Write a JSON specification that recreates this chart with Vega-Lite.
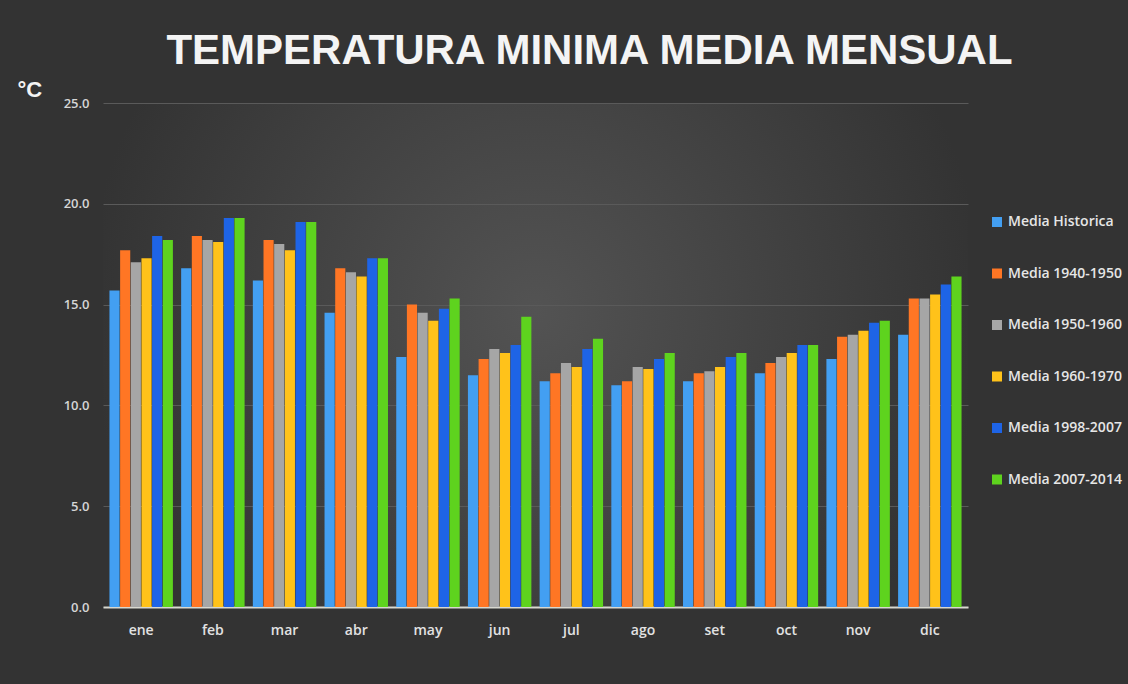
{
  "$schema": "https://vega.github.io/schema/vega-lite/v6.json",
  "autosize": {"type": "none"},
  "width": 865,
  "height": 504,
  "padding": {"left": 103, "top": 103, "right": 160, "bottom": 77},
  "background": "#333333",
  "title": {
    "text": "TEMPERATURA MINIMA MEDIA MENSUAL",
    "font": "Liberation Sans",
    "fontSize": 42,
    "fontWeight": "bold",
    "color": "#f4f4f4",
    "anchor": "middle",
    "frame": "group",
    "dx": 54,
    "offset": 5
  },
  "data": {
    "values": [
      {"mes": "ene", "serie": "Media Historica", "temp": 15.7},
      {"mes": "ene", "serie": "Media 1940-1950", "temp": 17.7},
      {"mes": "ene", "serie": "Media 1950-1960", "temp": 17.1},
      {"mes": "ene", "serie": "Media 1960-1970", "temp": 17.3},
      {"mes": "ene", "serie": "Media 1998-2007", "temp": 18.4},
      {"mes": "ene", "serie": "Media 2007-2014", "temp": 18.2},
      {"mes": "feb", "serie": "Media Historica", "temp": 16.8},
      {"mes": "feb", "serie": "Media 1940-1950", "temp": 18.4},
      {"mes": "feb", "serie": "Media 1950-1960", "temp": 18.2},
      {"mes": "feb", "serie": "Media 1960-1970", "temp": 18.1},
      {"mes": "feb", "serie": "Media 1998-2007", "temp": 19.3},
      {"mes": "feb", "serie": "Media 2007-2014", "temp": 19.3},
      {"mes": "mar", "serie": "Media Historica", "temp": 16.2},
      {"mes": "mar", "serie": "Media 1940-1950", "temp": 18.2},
      {"mes": "mar", "serie": "Media 1950-1960", "temp": 18.0},
      {"mes": "mar", "serie": "Media 1960-1970", "temp": 17.7},
      {"mes": "mar", "serie": "Media 1998-2007", "temp": 19.1},
      {"mes": "mar", "serie": "Media 2007-2014", "temp": 19.1},
      {"mes": "abr", "serie": "Media Historica", "temp": 14.6},
      {"mes": "abr", "serie": "Media 1940-1950", "temp": 16.8},
      {"mes": "abr", "serie": "Media 1950-1960", "temp": 16.6},
      {"mes": "abr", "serie": "Media 1960-1970", "temp": 16.4},
      {"mes": "abr", "serie": "Media 1998-2007", "temp": 17.3},
      {"mes": "abr", "serie": "Media 2007-2014", "temp": 17.3},
      {"mes": "may", "serie": "Media Historica", "temp": 12.4},
      {"mes": "may", "serie": "Media 1940-1950", "temp": 15.0},
      {"mes": "may", "serie": "Media 1950-1960", "temp": 14.6},
      {"mes": "may", "serie": "Media 1960-1970", "temp": 14.2},
      {"mes": "may", "serie": "Media 1998-2007", "temp": 14.8},
      {"mes": "may", "serie": "Media 2007-2014", "temp": 15.3},
      {"mes": "jun", "serie": "Media Historica", "temp": 11.5},
      {"mes": "jun", "serie": "Media 1940-1950", "temp": 12.3},
      {"mes": "jun", "serie": "Media 1950-1960", "temp": 12.8},
      {"mes": "jun", "serie": "Media 1960-1970", "temp": 12.6},
      {"mes": "jun", "serie": "Media 1998-2007", "temp": 13.0},
      {"mes": "jun", "serie": "Media 2007-2014", "temp": 14.4},
      {"mes": "jul", "serie": "Media Historica", "temp": 11.2},
      {"mes": "jul", "serie": "Media 1940-1950", "temp": 11.6},
      {"mes": "jul", "serie": "Media 1950-1960", "temp": 12.1},
      {"mes": "jul", "serie": "Media 1960-1970", "temp": 11.9},
      {"mes": "jul", "serie": "Media 1998-2007", "temp": 12.8},
      {"mes": "jul", "serie": "Media 2007-2014", "temp": 13.3},
      {"mes": "ago", "serie": "Media Historica", "temp": 11.0},
      {"mes": "ago", "serie": "Media 1940-1950", "temp": 11.2},
      {"mes": "ago", "serie": "Media 1950-1960", "temp": 11.9},
      {"mes": "ago", "serie": "Media 1960-1970", "temp": 11.8},
      {"mes": "ago", "serie": "Media 1998-2007", "temp": 12.3},
      {"mes": "ago", "serie": "Media 2007-2014", "temp": 12.6},
      {"mes": "set", "serie": "Media Historica", "temp": 11.2},
      {"mes": "set", "serie": "Media 1940-1950", "temp": 11.6},
      {"mes": "set", "serie": "Media 1950-1960", "temp": 11.7},
      {"mes": "set", "serie": "Media 1960-1970", "temp": 11.9},
      {"mes": "set", "serie": "Media 1998-2007", "temp": 12.4},
      {"mes": "set", "serie": "Media 2007-2014", "temp": 12.6},
      {"mes": "oct", "serie": "Media Historica", "temp": 11.6},
      {"mes": "oct", "serie": "Media 1940-1950", "temp": 12.1},
      {"mes": "oct", "serie": "Media 1950-1960", "temp": 12.4},
      {"mes": "oct", "serie": "Media 1960-1970", "temp": 12.6},
      {"mes": "oct", "serie": "Media 1998-2007", "temp": 13.0},
      {"mes": "oct", "serie": "Media 2007-2014", "temp": 13.0},
      {"mes": "nov", "serie": "Media Historica", "temp": 12.3},
      {"mes": "nov", "serie": "Media 1940-1950", "temp": 13.4},
      {"mes": "nov", "serie": "Media 1950-1960", "temp": 13.5},
      {"mes": "nov", "serie": "Media 1960-1970", "temp": 13.7},
      {"mes": "nov", "serie": "Media 1998-2007", "temp": 14.1},
      {"mes": "nov", "serie": "Media 2007-2014", "temp": 14.2},
      {"mes": "dic", "serie": "Media Historica", "temp": 13.5},
      {"mes": "dic", "serie": "Media 1940-1950", "temp": 15.3},
      {"mes": "dic", "serie": "Media 1950-1960", "temp": 15.3},
      {"mes": "dic", "serie": "Media 1960-1970", "temp": 15.5},
      {"mes": "dic", "serie": "Media 1998-2007", "temp": 16.0},
      {"mes": "dic", "serie": "Media 2007-2014", "temp": 16.4}
    ]
  },
  "mark": {"type": "bar"},
  "encoding": {
    "x": {
      "field": "mes",
      "type": "nominal",
      "sort": ["ene", "feb", "mar", "abr", "may", "jun", "jul", "ago", "set", "oct", "nov", "dic"],
      "scale": {"paddingInner": 0.115, "paddingOuter": 0.09},
      "axis": {
        "title": null,
        "labelAngle": 0,
        "ticks": false,
        "domainColor": "#d8d8d0",
        "domainWidth": 2,
        "labelColor": "#e2e2e2",
        "labelFont": "Open Sans",
        "labelFontWeight": 600,
        "labelFontSize": 14,
        "labelPadding": 16
      }
    },
    "xOffset": {
      "field": "serie",
      "type": "nominal",
      "sort": ["Media Historica", "Media 1940-1950", "Media 1950-1960", "Media 1960-1970", "Media 1998-2007", "Media 2007-2014"],
      "scale": {"paddingInner": 0.05}
    },
    "y": {
      "field": "temp",
      "type": "quantitative",
      "scale": {"domain": [0, 25]},
      "axis": {
        "title": "°C",
        "titleAngle": 0,
        "titleAlign": "left",
        "titleBaseline": "alphabetic",
        "titleX": -86,
        "titleY": -7,
        "titleFont": "Liberation Sans",
        "titleFontSize": 22,
        "titleFontWeight": "bold",
        "titleColor": "#f4f4f4",
        "values": [0, 5, 10, 15, 20, 25],
        "format": ".1f",
        "domain": false,
        "ticks": false,
        "gridColor": "#5a5a5a",
        "gridWidth": 1,
        "labelColor": "#d6d6d6",
        "labelFont": "Open Sans",
        "labelFontWeight": 600,
        "labelFontSize": 13,
        "labelPadding": 14
      }
    },
    "color": {
      "field": "serie",
      "type": "nominal",
      "sort": ["Media Historica", "Media 1940-1950", "Media 1950-1960", "Media 1960-1970", "Media 1998-2007", "Media 2007-2014"],
      "scale": {
        "domain": ["Media Historica", "Media 1940-1950", "Media 1950-1960", "Media 1960-1970", "Media 1998-2007", "Media 2007-2014"],
        "range": ["#439ff2", "#ff7624", "#a6a6a6", "#ffc21a", "#1e64e6", "#5ed31e"]
      },
      "legend": {
        "title": null,
        "orient": "none",
        "legendX": 887,
        "legendY": 112,
        "symbolType": "square",
        "symbolSize": 100,
        "symbolStrokeWidth": 0,
        "labelColor": "#e6e6e6",
        "labelFont": "Open Sans",
        "labelFontWeight": 600,
        "labelFontSize": 14,
        "labelOffset": 4,
        "rowPadding": 37.5
      }
    }
  },
  "config": {
    "view": {
      "stroke": null,
      "fill": {
        "gradient": "radial",
        "x1": 0.5, "y1": 0.45, "r1": 0,
        "x2": 0.5, "y2": 0.45, "r2": 0.52,
        "stops": [
          {"offset": 0, "color": "#535353"},
          {"offset": 1, "color": "#333333"}
        ]
      }
    }
  }
}
